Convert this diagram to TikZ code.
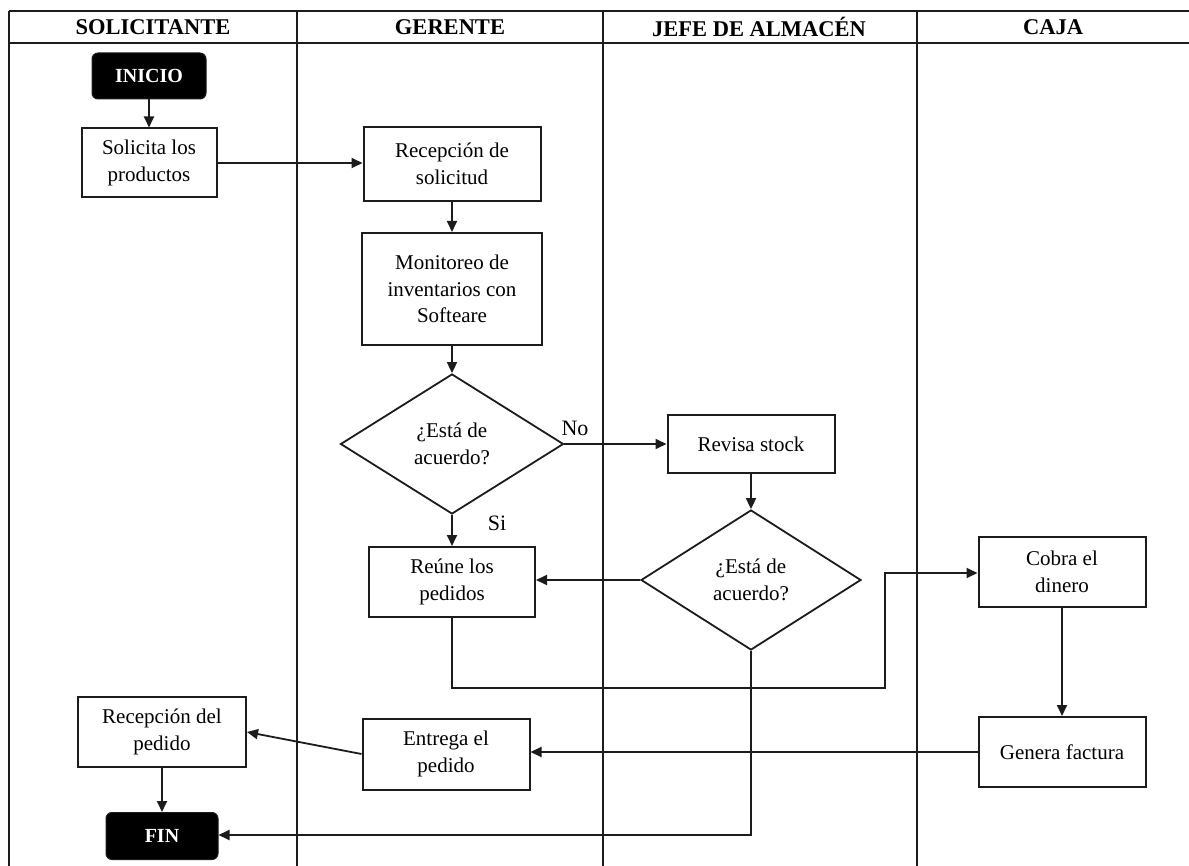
\documentclass[tikz,border=0pt]{standalone}
\usepackage{fontspec}
\setmainfont{Liberation Serif}
\usetikzlibrary{shapes.geometric,arrows.meta}
\definecolor{ink}{HTML}{1C1C1C}
\newcommand\boxtxt{\fontsize{21}{26.5}\selectfont}
\newcommand\headtxt{\fontsize{22.5}{27}\selectfont\bfseries}
\begin{document}
\begin{tikzpicture}[x=1pt,y=-1pt,
  frame/.style={draw=ink,line width=2pt},
  proc/.style={draw=ink,line width=2pt,fill=white,align=center,inner sep=0pt,font=\boxtxt},
  term/.style={draw=ink,fill=black,text=white,rounded corners=6pt,line width=1pt,inner sep=0pt,font=\fontsize{20}{24}\selectfont\bfseries},
  decision/.style={diamond,aspect=1.6,draw=ink,line width=1.8pt,fill=white,align=center,inner sep=0pt,font=\boxtxt},
  flow/.style={draw=ink,line width=1.8pt,-{Triangle[length=11pt,width=10pt]}},
  lbl/.style={font=\fontsize{22}{26}\selectfont,inner sep=0pt}
]
\useasboundingbox (0,0) rectangle (1189,866);
\fill[white] (0,0) rectangle (1189,866);

% swimlane grid
\draw[frame] (9,11) -- (1189,11);
\draw[frame] (9,43) -- (1189,43);
\draw[frame] (9,11) -- (9,866);
\draw[frame] (297,11) -- (297,866);
\draw[frame] (603,11) -- (603,866);
\draw[frame] (917,11) -- (917,866);

% lane titles
\node[font=\headtxt] (hsol) at (153,27) {SOLICITANTE};
\node[font=\headtxt] (hger) at (450,27) {GERENTE};
\node[font=\headtxt] (hjef) at (759,27) {JEFE DE ALMACÉN};
\node[font=\headtxt] (hcaj) at (1053,27) {CAJA};

% process steps
\node[term,minimum width=114pt,minimum height=46pt] (inicio) at (149,76) {INICIO};
\node[proc,minimum width=135pt,minimum height=69pt] (solicita) at (149,163) {Solicita los\\productos};
\node[proc,minimum width=177pt,minimum height=74pt] (recsol) at (452,164) {Recepción de\\solicitud};
\node[proc,minimum width=180pt,minimum height=112pt] (monit) at (452,289) {Monitoreo de\\inventarios con\\Softeare};
\node[decision,minimum width=223pt,minimum height=140pt] (d1) at (452,444) {¿Está de\\acuerdo?};
\node[proc,minimum width=167pt,minimum height=58pt] (revisa) at (751,444) {Revisa stock};
\node[decision,minimum width=220pt,minimum height=140pt] (d2) at (751,580) {¿Está de\\acuerdo?};
\node[proc,minimum width=166pt,minimum height=70pt] (reune) at (452,582) {Reúne los\\pedidos};
\node[proc,minimum width=167pt,minimum height=70pt] (cobra) at (1062,572) {Cobra el\\dinero};
\node[proc,minimum width=167pt,minimum height=70pt] (genera) at (1062,752) {Genera factura};
\node[proc,minimum width=167pt,minimum height=71pt] (entrega) at (446,754) {Entrega el\\pedido};
\node[proc,minimum width=168pt,minimum height=70pt] (recped) at (162,732) {Recepción del\\pedido};
\node[term,minimum width=112pt,minimum height=47pt] (fin) at (162,836) {FIN};

% branch labels
\node[lbl] (lno) at (575,428) {No};
\node[lbl] (lsi) at (497,523) {Si};

% bend points of the routed connectors
\coordinate (r1) at (reune.south |- 0,688);
\coordinate (r2) at (885,688);
\coordinate (r3) at (885,573);
\coordinate (f1) at (d2.south |- 0,835);

% connectors
\draw[flow] (inicio.south) -- (inicio.south |- solicita.north);
\draw[flow] (solicita.east) -- (recsol.west |- solicita.east);
\draw[flow] (recsol.south) -- (recsol.south |- monit.north);
\draw[flow] (monit.south) -- (monit.south |- d1.north);
\draw[flow] (d1.east) -- (revisa.west |- d1.east);
\draw[flow] (d1.south) -- (d1.south |- reune.north);
\draw[flow] (revisa.south) -- (revisa.south |- d2.north);
\draw[flow] (d2.west) -- (reune.east |- d2.west);
\draw[flow] (reune.south) -- (r1) -- (r2) -- (r3) -- (cobra.west |- r3);
\draw[flow] (cobra.south) -- (cobra.south |- genera.north);
\draw[flow] (genera.west) -- (entrega.east |- genera.west);
\draw[flow] (entrega.west) -- (recped.east);
\draw[flow] (recped.south) -- (recped.south |- fin.north);
\draw[flow] (d2.south) -- (f1) -- (fin.east |- f1);
\end{tikzpicture}
\end{document}
